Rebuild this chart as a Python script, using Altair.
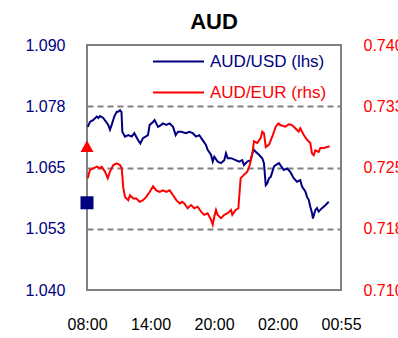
import altair as alt
import pandas as pd

# ---- data ----
usd_hours = [0.07, 0.28, 0.60, 0.92, 1.07, 1.23, 1.54, 1.70, 2.01, 2.17, 2.33, 2.58, 2.81, 2.96,
             3.12, 3.26, 3.34, 3.59, 3.90, 4.22, 4.47, 4.82, 5.04, 5.29, 5.76, 5.92, 6.24, 6.39,
             6.71, 7.02, 7.18, 7.49, 7.81, 8.13, 8.38, 8.60, 8.91, 9.35, 9.67, 9.99, 10.30, 10.61,
             10.93, 11.24, 11.40, 11.72, 11.88, 12.03, 12.35, 12.66, 12.97, 13.13, 13.29, 13.61,
             14.05, 14.36, 14.67, 14.83, 15.15, 15.47, 15.62, 15.78, 15.94, 16.25, 16.56, 16.72,
             16.89, 17.04, 17.20, 17.36, 17.51, 17.67, 17.83, 18.14, 18.59, 18.90, 19.21, 19.53,
             19.84, 20.15, 20.32, 20.63, 20.79, 20.95, 21.10, 21.26, 21.35, 21.57, 21.73, 21.89,
             22.20, 22.52, 22.84]
usd_values = [1.0733, 1.0743, 1.0747, 1.0754, 1.0751, 1.0755, 1.0751, 1.0746, 1.0737, 1.0727,
              1.0737, 1.0754, 1.0764, 1.0764, 1.0767, 1.0763, 1.0723, 1.0713, 1.0716, 1.0713,
              1.0720, 1.0706, 1.0699, 1.0710, 1.0716, 1.0737, 1.0743, 1.0747, 1.0733, 1.0737,
              1.0740, 1.0737, 1.0740, 1.0733, 1.0716, 1.0723, 1.0723, 1.0720, 1.0723, 1.0720,
              1.0713, 1.0716, 1.0706, 1.0696, 1.0686, 1.0676, 1.0662, 1.0672, 1.0662, 1.0659,
              1.0665, 1.0679, 1.0669, 1.0669, 1.0665, 1.0662, 1.0665, 1.0655, 1.0662, 1.0665,
              1.0679, 1.0686, 1.0682, 1.0676, 1.0669, 1.0659, 1.0614, 1.0618, 1.0628, 1.0631,
              1.0641, 1.0652, 1.0655, 1.0659, 1.0645, 1.0648, 1.0641, 1.0628, 1.0621, 1.0624,
              1.0611, 1.0601, 1.0590, 1.0584, 1.0570, 1.0557, 1.0546, 1.0563, 1.0567, 1.0560,
              1.0567, 1.0573, 1.0580]

eur_hours = [0.07, 0.28, 0.60, 0.92, 1.23, 1.39, 1.70, 1.96, 2.17, 2.49, 2.81, 3.12, 3.28, 3.43,
             3.59, 3.90, 4.06, 4.37, 4.66, 4.98, 5.29, 5.60, 5.92, 6.24, 6.55, 6.87, 7.18, 7.49,
             7.81, 8.13, 8.44, 8.76, 9.00, 9.19, 9.51, 9.83, 10.14, 10.46, 10.77, 11.08, 11.40,
             11.72, 11.88, 12.03, 12.19, 12.35, 12.66, 12.97, 13.29, 13.61, 13.73, 14.05, 14.30,
             14.43, 14.52, 14.83, 15.15, 15.38, 15.62, 15.78, 16.09, 16.41, 16.56, 16.72, 16.89,
             17.20, 17.51, 17.83, 18.08, 18.26, 18.74, 19.06, 19.37, 19.68, 20.00, 20.15, 20.47,
             20.79, 21.10, 21.26, 21.42, 21.57, 21.89, 22.05, 22.37, 22.68, 22.93]
eur_values = [0.7237, 0.7247, 0.7249, 0.7251, 0.7249, 0.7251, 0.7245, 0.7237, 0.7245, 0.7253,
              0.7255, 0.7253, 0.7249, 0.7225, 0.7214, 0.7210, 0.7216, 0.7212, 0.7212, 0.7208,
              0.7210, 0.7214, 0.7220, 0.7227, 0.7222, 0.7220, 0.7222, 0.7220, 0.7222, 0.7216,
              0.7210, 0.7206, 0.7208, 0.7206, 0.7200, 0.7204, 0.7200, 0.7202, 0.7196, 0.7192,
              0.7194, 0.7186, 0.7180, 0.7190, 0.7198, 0.7192, 0.7188, 0.7192, 0.7194, 0.7198,
              0.7192, 0.7198, 0.7200, 0.7222, 0.7237, 0.7241, 0.7245, 0.7253, 0.7267, 0.7282,
              0.7280, 0.7286, 0.7294, 0.7292, 0.7275, 0.7278, 0.7288, 0.7300, 0.7304, 0.7302,
              0.7300, 0.7303, 0.7302, 0.7298, 0.7294, 0.7298, 0.7290, 0.7284, 0.7280, 0.7267,
              0.7265, 0.7271, 0.7269, 0.7274, 0.7274, 0.7275, 0.7276]

usd_marker = [1.0578]
eur_marker = [0.7276]

x_ticks = [0, 6, 12, 18, 24]
x_labels = ["08:00", "14:00", "20:00", "02:00", "00:55"]
left_ticks = [1.040, 1.0525, 1.065, 1.0775, 1.090]
right_ticks = [0.710, 0.7175, 0.725, 0.7325, 0.740]

NAVY = "#000080"
RED = "#FF0000"
GRAY = "#808080"
FONT = "Liberation Sans"

usd = pd.DataFrame({"h": usd_hours, "v": usd_values, "s": "AUD/USD (lhs)"})
eur = pd.DataFrame({"h": eur_hours, "v": eur_values, "s": "AUD/EUR (rhs)"})
usd_m = pd.DataFrame({"h": [0] * len(usd_marker), "v": usd_marker})
eur_m = pd.DataFrame({"h": [0] * len(eur_marker), "v": eur_marker})

x_expr = " : ".join(f"datum.value == {t} ? '{l}'" for t, l in zip(x_ticks, x_labels)) + " : ''"
x_enc = alt.X("h:Q", scale=alt.Scale(domain=[0, 24], nice=False),
              axis=alt.Axis(values=x_ticks, labelExpr=x_expr, title=None, domain=False,
                            ticks=False, grid=False, labelFontSize=16, labelFont=FONT,
                            labelColor="black", labelPadding=26, labelFlush=False))

y_left = alt.Y("v:Q", scale=alt.Scale(domain=[1.040, 1.090], nice=False, zero=False),
               axis=alt.Axis(values=left_ticks, labelExpr="format(datum.value + 1e-9, '.3f')",
                             title=None, domain=False, ticks=False, labelColor=NAVY,
                             labelFontSize=16, labelFont=FONT, labelPadding=22,
                             grid=True, gridColor=GRAY, gridDash=[6, 4], gridWidth=2,
                             gridOpacity=alt.condition("datum.value < 1.045 || datum.value > 1.085",
                                                       alt.value(0), alt.value(1)),
                             orient="left"))
y_right = alt.Y("v:Q", scale=alt.Scale(domain=[0.710, 0.740], nice=False, zero=False),
                axis=alt.Axis(values=right_ticks, labelExpr="format(datum.value + 1e-9, '.3f')",
                              title=None, domain=False, ticks=False, labelColor=RED,
                              labelFontSize=16, labelFont=FONT, labelPadding=22,
                              grid=False, orient="right"))

def legend(color, y):
    return alt.Legend(orient="none", legendX=65, legendY=y, title=None, symbolType="stroke",
                      symbolSize=2601, symbolStrokeWidth=2, labelColor=color,
                      labelFontSize=17, labelFont=FONT, labelOffset=5, padding=0)

usd_line = alt.Chart(usd).mark_line(strokeWidth=2).encode(
    x=x_enc, y=y_left,
    color=alt.Color("s:N", scale=alt.Scale(domain=["AUD/USD (lhs)"], range=[NAVY]),
                    legend=legend(NAVY, -10)))
usd_pt = alt.Chart(usd_m).mark_point(shape="square", filled=True, size=169, color=NAVY,
                                      opacity=1, clip=False).encode(x=x_enc, y=y_left)
eur_line = alt.Chart(eur).mark_line(strokeWidth=2).encode(
    x=x_enc, y=y_right,
    color=alt.Color("s:N", scale=alt.Scale(domain=["AUD/EUR (rhs)"], range=[RED]),
                    legend=legend(RED, 21)))
eur_pt = alt.Chart(eur_m).mark_point(shape="triangle-up", filled=True, size=170, color=RED,
                                      opacity=1, clip=False).encode(x=x_enc, y=y_right)

left = alt.layer(usd_line, usd_pt)
right = alt.layer(eur_line, eur_pt)

chart = alt.layer(left, right).resolve_scale(y="independent", color="independent").properties(
    width=254, height=245,
    autosize=alt.AutoSizeParams(type="none"),
    padding={"left": 87, "top": 45, "right": 57, "bottom": 48},
    background="white",
    title=alt.Title("AUD", fontSize=22, fontWeight="bold", font=FONT, color="black",
                    anchor="middle", offset=1),
).configure_view(stroke=GRAY, strokeWidth=2, strokeOpacity=1)

chart.save("out.html", embed_options={"renderer": "svg", "actions": False})
